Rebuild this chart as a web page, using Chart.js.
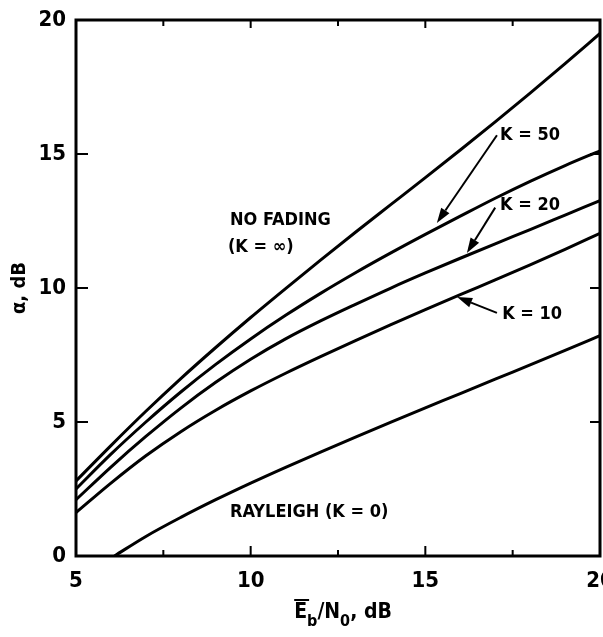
<!doctype html>
<html><head><meta charset="utf-8">
<script src="https://cdn.jsdelivr.net/npm/chart.js"></script>
<style>
  html, body { margin: 0; padding: 0; background: #fff; }
  canvas { display: block; }
</style>
</head><body>
<canvas id="chart" width="603" height="637"></canvas>
<script>
// values (x = Eb/N0 in dB, y = alpha in dB)
const xValues   = [5, 6, 7, 8, 9, 10, 11, 12, 13, 14, 15, 16, 17, 18, 19, 20];
const noFading  = [2.8, 4.12, 5.4, 6.62, 7.78, 8.9, 9.98, 11.04, 12.08, 13.1, 14.12, 15.15, 16.2, 17.27, 18.37, 19.5];
const k50       = [2.5, 3.8, 5.0, 6.12, 7.15, 8.1, 8.98, 9.8, 10.57, 11.3, 12.0, 12.68, 13.35, 13.98, 14.57, 15.12];
const k20       = [2.1, 3.32, 4.46, 5.52, 6.48, 7.34, 8.1, 8.77, 9.39, 9.99, 10.56, 11.11, 11.65, 12.18, 12.72, 13.26];
const k10       = [1.62, 2.72, 3.74, 4.64, 5.44, 6.16, 6.82, 7.44, 8.04, 8.62, 9.19, 9.75, 10.3, 10.86, 11.44, 12.04];
const rayleighX = [6.1, 7, 8, 9, 10, 11, 12, 13, 14, 15, 16, 17, 18, 19, 20];
const rayleigh  = [0, 0.73, 1.44, 2.1, 2.72, 3.31, 3.88, 4.44, 4.99, 5.53, 6.06, 6.6, 7.13, 7.67, 8.22];

const xTicks = [5, 10, 15, 20];
const yTicks = [0, 5, 10, 15, 20];
const xMinorTicks = [7.5, 12.5, 17.5];

const FONT = "'Liberation Sans Narrow', 'DejaVu Sans Condensed', sans-serif";

// labels and arrows, placed in data units
const labels = [
  { text: 'NO FADING', x: 9.41, y: 12.54 },
  { text: '(K = \u221e)', x: 9.35, y: 11.53 },
  { text: 'K = 50', x: 17.14, y: 15.7 },
  { text: 'K = 20', x: 17.14, y: 13.1 },
  { text: 'K = 10', x: 17.2, y: 9.03 },
  { text: 'RAYLEIGH (K = 0)', x: 9.41, y: 1.64 }
];
const arrows = [
  { from: [17.05, 15.7], to: [15.33, 12.43] },
  { from: [17.0, 13.0], to: [16.19, 11.31] },
  { from: [17.05, 9.07], to: [15.91, 9.66] }
];

const pts = (xs, ys) => xs.map((x, i) => ({ x, y: ys[i] }));
const line = (name, data) => ({
  label: name, data, borderColor: '#000', borderWidth: 3,
  pointRadius: 0, fill: false, cubicInterpolationMode: 'monotone'
});

const decor = {
  id: 'decor',
  afterDraw(chart) {
    const { ctx, chartArea: a, scales: { x, y } } = chart;
    ctx.save();
    ctx.strokeStyle = '#000';
    ctx.fillStyle = '#000';
    // frame
    ctx.lineWidth = 3;
    ctx.strokeRect(a.left, a.top, a.right - a.left, a.bottom - a.top);
    // inward ticks
    ctx.lineWidth = 2;
    ctx.beginPath();
    yTicks.slice(1, -1).forEach(v => {
      const py = y.getPixelForValue(v);
      ctx.moveTo(a.left, py); ctx.lineTo(a.left + 12, py);
      ctx.moveTo(a.right, py); ctx.lineTo(a.right - 10, py);
    });
    xTicks.slice(1, -1).forEach(v => {
      const px = x.getPixelForValue(v);
      ctx.moveTo(px, a.bottom); ctx.lineTo(px, a.bottom - 10);
      ctx.moveTo(px, a.top); ctx.lineTo(px, a.top + 8);
    });
    xMinorTicks.forEach(v => {
      const px = x.getPixelForValue(v);
      ctx.moveTo(px, a.bottom); ctx.lineTo(px, a.bottom - 6);
      ctx.moveTo(px, a.top); ctx.lineTo(px, a.top + 6);
    });
    ctx.stroke();

    // curve labels
    ctx.font = 'bold 18px ' + FONT;
    ctx.textAlign = 'left';
    ctx.textBaseline = 'middle';
    labels.forEach(l => ctx.fillText(l.text, x.getPixelForValue(l.x), y.getPixelForValue(l.y)));

    // arrows
    ctx.lineWidth = 2;
    arrows.forEach(ar => {
      const x0 = x.getPixelForValue(ar.from[0]), y0 = y.getPixelForValue(ar.from[1]);
      const x1 = x.getPixelForValue(ar.to[0]), y1 = y.getPixelForValue(ar.to[1]);
      const ang = Math.atan2(y1 - y0, x1 - x0);
      const len = 15, w = 5;
      const bx = x1 - len * Math.cos(ang), by = y1 - len * Math.sin(ang);
      ctx.beginPath();
      ctx.moveTo(x0, y0); ctx.lineTo(bx, by);
      ctx.stroke();
      ctx.beginPath();
      ctx.moveTo(x1, y1);
      ctx.lineTo(bx + w * Math.sin(ang), by - w * Math.cos(ang));
      ctx.lineTo(bx - w * Math.sin(ang), by + w * Math.cos(ang));
      ctx.closePath();
      ctx.fill();
    });

    // x axis title: Eb/N0, dB with overline on E
    const cx = (a.left + a.right) / 2 + 5;
    const base = a.bottom + 62;
    const big = 'bold 21px ' + FONT, small = 'bold 16px ' + FONT;
    const parts = [
      { t: 'E', f: big, dy: 0, bar: true },
      { t: 'b', f: small, dy: 8 },
      { t: '/N', f: big, dy: 0 },
      { t: '0', f: small, dy: 8 },
      { t: ', dB', f: big, dy: 0 }
    ];
    let total = 0;
    parts.forEach(p => { ctx.font = p.f; p.w = ctx.measureText(p.t).width; total += p.w; });
    let px = cx - total / 2;
    ctx.textBaseline = 'alphabetic';
    parts.forEach(p => {
      ctx.font = p.f;
      ctx.fillText(p.t, px, base + p.dy);
      if (p.bar) {
        ctx.lineWidth = 2;
        ctx.beginPath();
        ctx.moveTo(px, base - 18); ctx.lineTo(px + p.w + 2, base - 18);
        ctx.stroke();
      }
      px += p.w;
    });
    ctx.restore();
  }
};

new Chart(document.getElementById('chart'), {
  type: 'line',
  data: {
    datasets: [
      line('No fading (K = \u221e)', pts(xValues, noFading)),
      line('K = 50', pts(xValues, k50)),
      line('K = 20', pts(xValues, k20)),
      line('K = 10', pts(xValues, k10)),
      line('Rayleigh (K = 0)', pts(rayleighX, rayleigh))
    ]
  },
  options: {
    responsive: false,
    animation: false,
    devicePixelRatio: 1,
    layout: { padding: { top: 20, right: 3, left: 0, bottom: 0 } },
    plugins: { legend: { display: false }, tooltip: { enabled: false } },
    scales: {
      x: {
        type: 'linear', min: 5, max: 20,
        afterBuildTicks: s => { s.ticks = xTicks.map(v => ({ value: v })); },
        afterFit: s => { s.height = 81; s.paddingRight = 0; s.paddingLeft = 0; },
        grid: { display: false, drawTicks: false },
        border: { display: false },
        ticks: { color: '#000', padding: 12, maxRotation: 0, font: { family: FONT, size: 22, weight: 'bold' } }
      },
      y: {
        type: 'linear', min: 0, max: 20,
        afterBuildTicks: s => { s.ticks = yTicks.map(v => ({ value: v })); },
        afterFit: s => { s.width = 76; s.paddingTop = 0; s.paddingBottom = 0; },
        grid: { display: false, drawTicks: false },
        border: { display: false },
        ticks: { color: '#000', padding: 10, font: { family: FONT, size: 22, weight: 'bold' } },
        title: { display: true, text: '\u03b1, dB', color: '#000', padding: { top: 8, bottom: 0 }, font: { family: FONT, size: 20, weight: 'bold' } }
      }
    }
  },
  plugins: [decor]
});
</script>
</body></html>
